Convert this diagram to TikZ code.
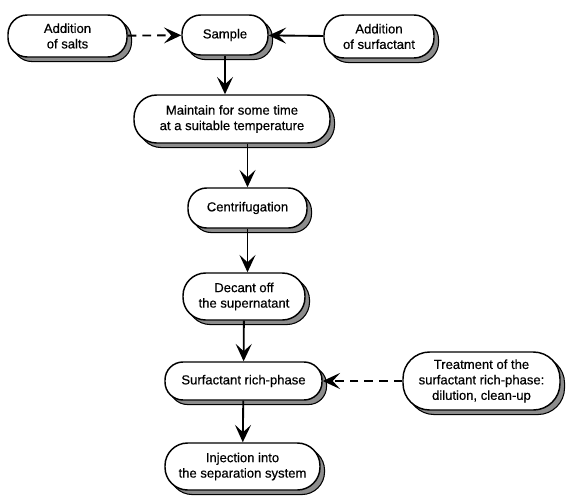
\documentclass[tikz,border=0pt]{standalone}
\usepackage{fontspec}
\setmainfont[FakeBold=0.4]{Liberation Sans}
\usetikzlibrary{arrows.meta,shadows}
\begin{document}
\begin{tikzpicture}[x=0.75pt,y=-0.75pt,
  box/.style={draw=black, line width=1.1pt, fill=white, align=center,
    inner sep=0pt, font=\fontsize{9.8}{11.6}\selectfont,
    general shadow={shadow xshift=3.4pt, shadow yshift=-3.4pt, fill=black!45, draw=black, line width=0.8pt}},
  arr/.style={line width=1.4pt, -{Stealth[length=13pt,width=12pt,inset=5.5pt]}},
  darr/.style={arr, dash pattern=on 6.5pt off 4.5pt}]
\useasboundingbox (0,0) rectangle (572,497);
\node[box, minimum width=119*0.75pt, minimum height=42*0.75pt, rounded corners=14.5pt] (salts) at (67.5,36) {Addition\\of salts};
\node[box, minimum width=86*0.75pt, minimum height=40*0.75pt, rounded corners=14pt] (sample) at (225,35) {Sample};
\node[box, minimum width=110*0.75pt, minimum height=43*0.75pt, rounded corners=15pt] (surf) at (379,36.5) {Addition\\of surfactant};
\node[box, minimum width=196*0.75pt, minimum height=48*0.75pt, rounded corners=17pt] (maint) at (232,119) {Maintain for some time\\at a suitable temperature};
\node[box, minimum width=119*0.75pt, minimum height=40*0.75pt, rounded corners=14pt] (centri) at (247.5,208) {Centrifugation};
\node[box, minimum width=122*0.75pt, minimum height=47*0.75pt, rounded corners=17pt] (decant) at (244,296.5) {Decant off\\the supernatant};
\node[box, minimum width=157*0.75pt, minimum height=38*0.75pt, rounded corners=13.5pt] (rich) at (243.5,381) {Surfactant rich-phase};
\node[box, minimum width=157*0.75pt, minimum height=58*0.75pt, rounded corners=20pt] (treat) at (481.5,381) {Treatment of the\\surfactant rich-phase:\\dilution, clean-up};
\node[box, minimum width=155*0.75pt, minimum height=47*0.75pt, rounded corners=17pt] (inject) at (242.5,466.5) {Injection into\\the separation system};
\draw[darr] (salts) -- (sample);
\draw[arr] (surf) -- (sample);
\draw[arr] (sample) -- (sample |- maint.north);
\draw[arr] (centri |- maint.south) -- (centri);
\draw[arr] (centri) -- (centri |- decant.north);
\draw[arr] (decant) -- (rich);
\draw[darr] (treat) -- (rich);
\draw[arr] (rich) -- (inject);
\end{tikzpicture}
\end{document}
